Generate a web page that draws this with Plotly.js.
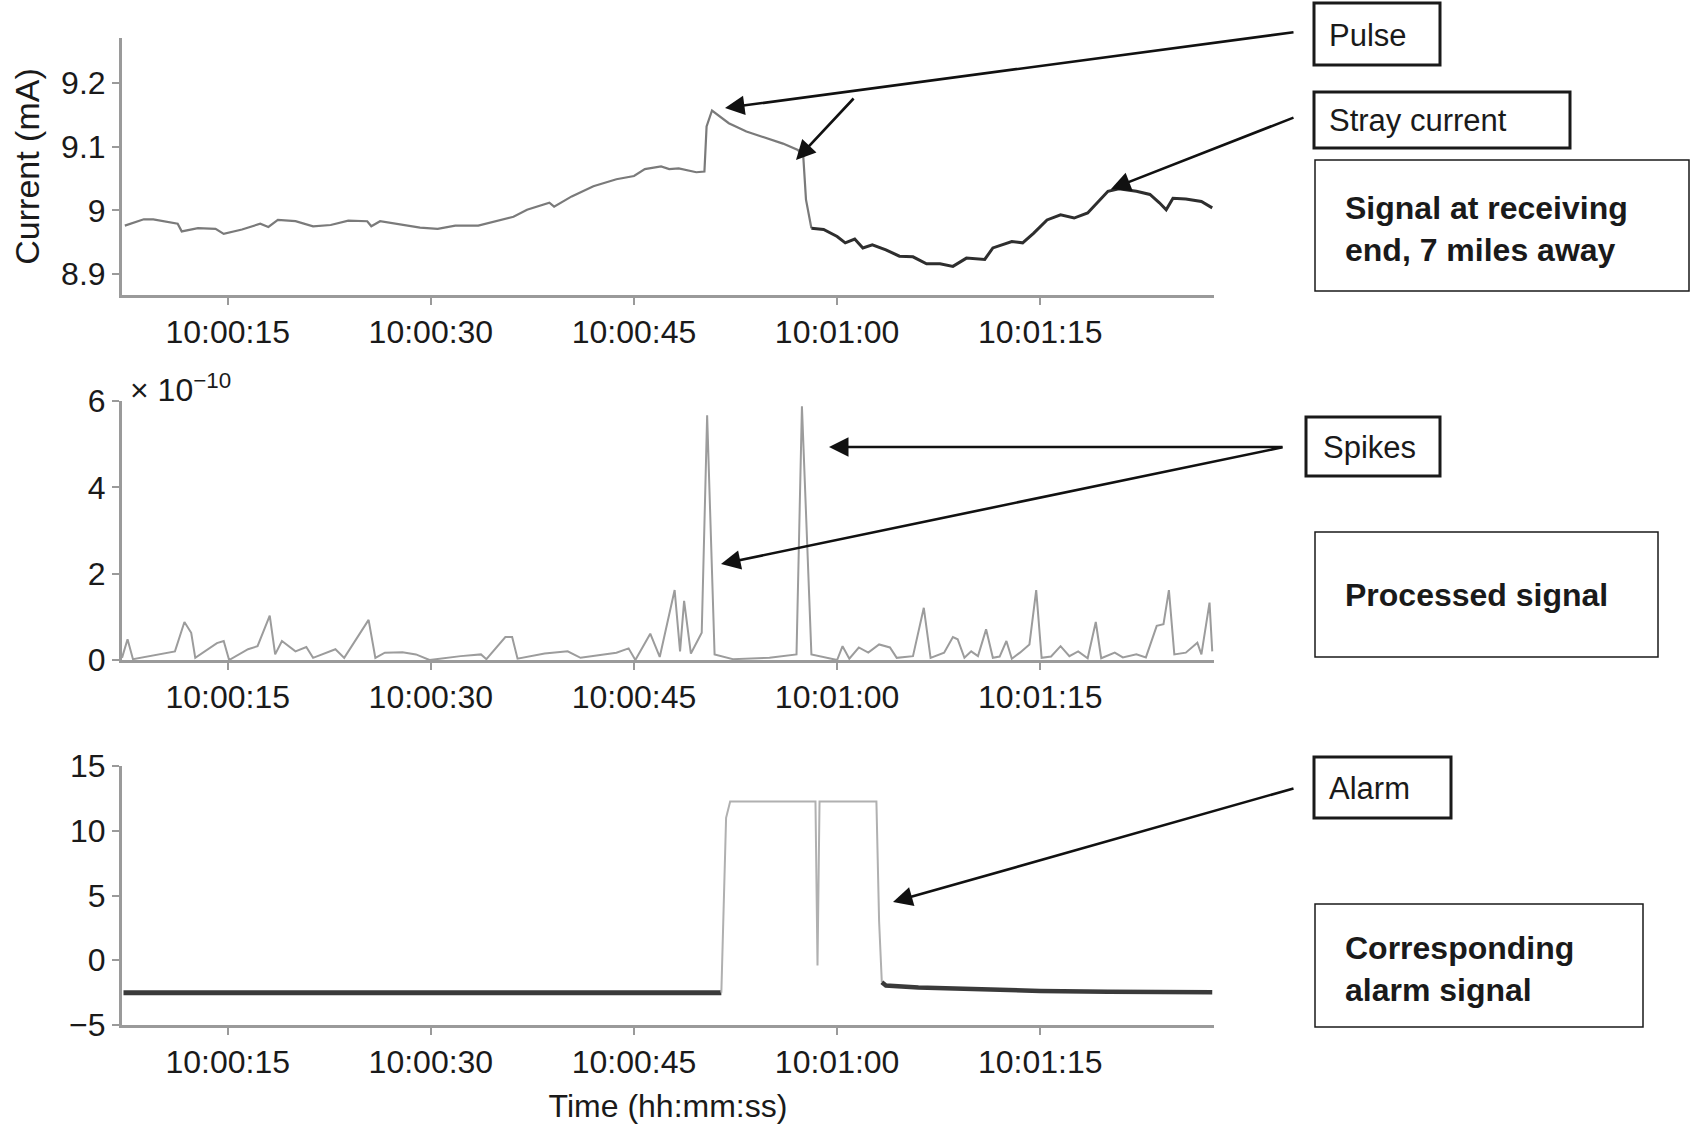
<!DOCTYPE html>
<html>
<head>
<meta charset="utf-8">
<script src="https://cdn.plot.ly/plotly-3.0.1.min.js"></script>
<style>html,body{margin:0;padding:0;background:#fff;}#chart{width:1692px;height:1129px;}</style>
</head>
<body>
<div id="chart"></div>
<script>
// ---- Data (seconds after 10:00:00) ----
const currentTime = [7.4,8.8,9.5,11.3,11.6,12.8,14.1,14.7,16.05,17.4,18.0,18.7,20.0,21.3,22.6,23.9,25.3,25.6,26.25,27.9,29.2,30.5,31.8,33.5,34.5,36.1,37.1,38.75,39.1,40.4,42.0,43.7,45.0,45.8,47.0,47.6,48.3,49.6,50.2,50.36,50.76,51.35,52.0,53.3,54.7,56.0,57.1,57.5,57.7,58.1,59.0,60.0,60.6,61.3,61.9,62.6,63.6,64.6,65.6,66.6,67.6,68.55,69.55,70.9,71.5,72.9,73.7,74.5,75.5,76.5,77.5,78.5,79.1,80.0,80.8,82.1,83.1,83.8,84.3,84.8,85.75,86.9,87.7];
const currentValue = [8.976,8.986,8.986,8.979,8.967,8.972,8.971,8.963,8.970,8.979,8.974,8.985,8.983,8.975,8.977,8.984,8.983,8.975,8.983,8.977,8.973,8.971,8.976,8.976,8.981,8.990,9.001,9.012,9.006,9.022,9.038,9.049,9.054,9.065,9.069,9.065,9.066,9.060,9.061,9.132,9.157,9.148,9.137,9.124,9.114,9.105,9.095,9.085,9.017,8.972,8.970,8.959,8.949,8.955,8.941,8.946,8.938,8.928,8.927,8.916,8.916,8.912,8.925,8.923,8.941,8.951,8.949,8.964,8.985,8.993,8.988,8.996,9.009,9.030,9.034,9.030,9.025,9.012,9.001,9.019,9.018,9.014,9.004];

const processedTime = [7.19,7.6,8.0,11.1,11.8,12.3,12.6,14.2,14.7,15.1,16.5,17.2,18.1,18.5,19.0,20.0,20.8,21.3,22.95,23.6,25.4,25.9,26.6,27.9,28.9,29.9,32.2,33.7,34.1,35.5,36.0,36.4,38.4,40.1,41.05,43.7,44.6,45.1,46.2,46.9,48.0,48.4,48.7,49.2,50.0,50.4,50.95,52.3,55.0,57.0,57.4,58.1,60.0,60.4,60.9,61.6,62.3,63.1,63.9,64.4,65.6,66.4,66.9,67.9,68.55,68.9,69.4,69.9,70.4,71.0,71.5,72.0,72.5,72.9,73.5,74.2,74.7,75.1,75.8,76.5,77.15,77.8,78.5,79.1,79.5,80.5,81.1,82.1,82.8,83.6,84.1,84.5,84.9,85.75,86.6,86.9,87.5,87.7];
const processedValue = [0.05,0.48,0.02,0.2,0.88,0.63,0.05,0.39,0.44,0.0,0.25,0.32,1.03,0.13,0.44,0.2,0.3,0.05,0.25,0.05,0.93,0.05,0.17,0.18,0.13,0.0,0.09,0.13,0.02,0.53,0.53,0.03,0.15,0.2,0.05,0.17,0.27,0.0,0.61,0.07,1.62,0.2,1.37,0.15,0.63,5.67,0.13,0.02,0.05,0.13,5.88,0.13,0.0,0.32,0.03,0.29,0.17,0.36,0.29,0.05,0.09,1.21,0.05,0.17,0.53,0.48,0.05,0.2,0.09,0.71,0.05,0.08,0.44,0.03,0.17,0.36,1.62,0.05,0.08,0.32,0.09,0.2,0.04,0.88,0.04,0.17,0.06,0.13,0.06,0.79,0.83,1.62,0.13,0.17,0.4,0.13,1.33,0.2];

const alarmTime = [7.3,51.45,51.6,51.8,52.1,58.4,58.55,58.7,62.9,63.1,63.3,63.6,66,70,75,80,87.7];
const alarmValue = [-2.5,-2.5,4,11,12.25,12.25,-0.4,12.25,12.25,3,-1.7,-1.95,-2.1,-2.25,-2.37,-2.43,-2.48];

const timeTicks = [15,30,45,60,75];
const currentTicks = [8.9,9,9.1,9.2];
const currentTickText = ['8.9','9','9.1','9.2'];
const processedTicks = [0,2,4,6];
const alarmTicks = [-5,0,5,10,15];
const alarmTickText = ['\u22125','0','5','10','15'];

// ---- helpers ----
function ts(s){
  const d = new Date(Date.UTC(2020,0,1,10,0,0) + Math.round(s*1000));
  return d.toISOString().replace('T',' ').replace('Z','');
}
const W = 1692, H = 1129;
const PX = p => p / W;
const PY = p => 1 - p / H;

const FONT = 'Liberation Sans, Arial, sans-serif';
const TXT = '#1a1a1a';
const AX = '#9a9a9a';
const TICK_SIZE = 32;

const ct = currentTime.map(ts);
const pt = processedTime.map(ts);
const at = alarmTime.map(ts);

const splitC = 49; // index where signal drops after pulse
const traces = [
  {x: ct.slice(0, splitC+1), y: currentValue.slice(0, splitC+1), xaxis:'x', yaxis:'y', mode:'lines', line:{color:'#7a7a7a', width:2.2}},
  {x: ct.slice(splitC), y: currentValue.slice(splitC), xaxis:'x', yaxis:'y', mode:'lines', line:{color:'#2e2e2e', width:3}},
  {x: pt, y: processedValue, xaxis:'x2', yaxis:'y2', mode:'lines', line:{color:'#9c9c9c', width:2}},
  {x: at.slice(0,2), y: alarmValue.slice(0,2), xaxis:'x3', yaxis:'y3', mode:'lines', line:{color:'#3a3a3a', width:5}},
  {x: at.slice(1,11), y: alarmValue.slice(1,11), xaxis:'x3', yaxis:'y3', mode:'lines', line:{color:'#b0b0b0', width:2}},
  {x: at.slice(10), y: alarmValue.slice(10), xaxis:'x3', yaxis:'y3', mode:'lines', line:{color:'#3a3a3a', width:4.5}}
];

const xDom = [PX(122), PX(1214)];
const xRange = [ts(7.19), ts(87.83)];
function xAxis(anchor){
  return {domain:xDom, anchor:anchor, type:'date', range:xRange, tickvals: timeTicks.map(ts), tickformat:'%H:%M:%S',
    showline:true, linecolor:AX, linewidth:3, ticks:'outside', ticklen:7, tickwidth:2, tickcolor:AX,
    showgrid:false, zeroline:false, tickfont:{family:FONT, size:TICK_SIZE, color:TXT}};
}
function yAxis(anchor, dom, range, vals, text){
  const a = {domain:dom, anchor:anchor, range:range, tickvals:vals,
    showline:true, linecolor:AX, linewidth:3, ticks:'outside', ticklen:7, tickwidth:2, tickcolor:AX,
    showgrid:false, zeroline:false, tickfont:{family:FONT, size:TICK_SIZE, color:TXT}};
  if (text) a.ticktext = text;
  return a;
}

const layout = {
  width: W, height: H, margin:{l:0,r:0,t:0,b:0}, paper_bgcolor:'#fff', plot_bgcolor:'#fff', showlegend:false,
  xaxis: xAxis('y'),
  yaxis: Object.assign(yAxis('x', [PY(295), PY(38)], [8.867, 9.271], currentTicks, currentTickText),
          {title:{text:'Current (mA)', font:{family:FONT, size:34, color:TXT}, standoff:12}}),
  xaxis2: xAxis('y2'),
  yaxis2: yAxis('x2', [PY(660), PY(401)], [0, 6], processedTicks),
  xaxis3: Object.assign(xAxis('y3'), {title:{text:'Time (hh:mm:ss)', font:{family:FONT, size:32, color:TXT}, standoff:16}}),
  yaxis3: yAxis('x3', [PY(1025), PY(766)], [-5, 15], alarmTicks, alarmTickText),
  shapes: [],
  annotations: []
};

// label boxes
function box(x0, y0, x1, y1, w){
  layout.shapes.push({type:'rect', xref:'paper', yref:'paper', x0:PX(x0), x1:PX(x1), y0:PY(y1), y1:PY(y0), line:{color:'#1a1a1a', width:w}, fillcolor:'rgba(0,0,0,0)'});
}
function label(x, y, text, bold){
  layout.annotations.push({xref:'paper', yref:'paper', x:PX(x), y:PY(y), xanchor:'left', yanchor:'middle', align:'left', showarrow:false,
    text: bold ? '<b>'+text+'</b>' : text, font:{family:FONT, size: bold ? 32 : 31, color:TXT}});
}
function arrow(tx, ty, hx, hy){
  layout.annotations.push({xref:'paper', yref:'paper', x:PX(hx), y:PY(hy), ax:tx-hx, ay:ty-hy, text:'', showarrow:true,
    arrowhead:2, arrowsize:1.5, arrowwidth:2.6, arrowcolor:'#111', standoff:0, startstandoff:0});
}

box(1314, 3, 1440, 65, 3);      label(1327, 35, 'Pulse');
box(1314, 92, 1570, 148, 3);    label(1327, 120, 'Stray current');
box(1315, 160, 1689, 291, 1.5); label(1343, 229, 'Signal at receiving<br>end, 7 miles away', true);
box(1306, 417, 1440, 476, 3);   label(1321, 447, 'Spikes');
box(1315, 532, 1658, 657, 1.5); label(1343, 595, 'Processed signal', true);
box(1314, 757, 1451, 818, 3);   label(1327, 788, 'Alarm');
box(1315, 904, 1643, 1027, 1.5);label(1343, 969, 'Corresponding<br>alarm signal', true);

arrow(1295, 32, 725, 108);
arrow(855, 97, 796, 160);
arrow(1295, 117, 1111, 189);
arrow(1284, 447, 829, 447);
arrow(1284, 447, 721, 564);
arrow(1295, 788, 893, 902);

// exponent label for processed signal
layout.annotations.push({xref:'paper', yref:'paper', x:PX(128), y:PY(388), xanchor:'left', yanchor:'middle', showarrow:false,
  text:'\u00d7 10<sup>\u221210</sup>', font:{family:FONT, size:32, color:TXT}});

Plotly.newPlot('chart', traces, layout, {displayModeBar:false, staticPlot:true});
</script>
</body>
</html>
